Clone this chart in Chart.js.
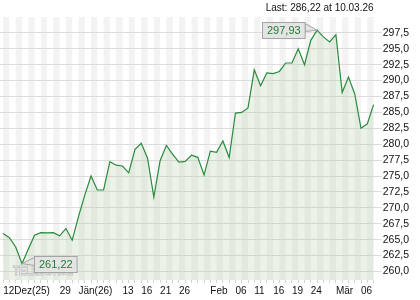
<!DOCTYPE html>
<html>
<head>
<meta charset="utf-8">
<script src="https://cdn.jsdelivr.net/npm/chart.js@4.4.1/dist/chart.umd.min.js"></script>
<style>
  html, body { margin: 0; padding: 0; background: #fff; }
</style>
</head>
<body>
<canvas id="kurs" width="420" height="300"></canvas>
<script>
// Handelstage 12.12.25 - 10.03.26
var dates = ['12.12.25','15.12.25','16.12.25','17.12.25','18.12.25','19.12.25','22.12.25','23.12.25','24.12.25','29.12.25',
    '30.12.25','31.12.25','02.01.26','05.01.26','06.01.26','07.01.26','08.01.26','09.01.26','12.01.26','13.01.26',
    '14.01.26','15.01.26','16.01.26','19.01.26','20.01.26','21.01.26','22.01.26','23.01.26','26.01.26','27.01.26',
    '28.01.26','29.01.26','30.01.26','02.02.26','03.02.26','04.02.26','05.02.26','06.02.26','09.02.26','10.02.26',
    '11.02.26','12.02.26','13.02.26','16.02.26','17.02.26','18.02.26','19.02.26','20.02.26','23.02.26','24.02.26',
    '25.02.26','26.02.26','27.02.26','02.03.26','03.03.26','04.03.26','05.03.26','06.03.26','09.03.26','10.03.26'];

var kurse = [265.95, 265.30, 263.84, 261.22, 263.50, 265.70, 266.10, 266.05, 266.10, 265.60,
    266.74, 264.90, 268.60, 272.00, 275.00, 272.80, 272.80, 277.25, 276.70, 276.57,
    275.50, 279.20, 280.15, 277.80, 271.70, 277.40, 279.80, 278.40, 277.20, 277.30,
    278.26, 277.94, 275.15, 278.90, 278.73, 280.50, 277.90, 284.90, 285.00, 285.70,
    291.70, 289.20, 291.20, 291.10, 291.44, 292.77, 292.77, 295.00, 292.50, 296.33,
    297.93, 296.87, 296.08, 297.23, 288.13, 290.56, 287.90, 282.50, 283.20, 286.22];

var tickDates = ['12.12.25','29.12.25','02.01.26','13.01.26','16.01.26','21.01.26','26.01.26','02.02.26',
    '06.02.26','11.02.26','16.02.26','19.02.26','24.02.26','02.03.26','06.03.26'];
var tickTexts = ['12Dez(25)','29','Jän(26)','13','16','21','26','Feb','06','11','16','19','24','Mär','06'];

var yTicks = [260, 262.5, 265, 267.5, 270, 272.5, 275, 277.5, 280, 282.5, 285, 287.5, 290, 292.5, 295, 297.5];

var lastText = 'Last: 286,22 at 10.03.26';
var fontName = '"Liberation Sans", Arial, sans-serif';

function fmt(v, d) {
    return v.toFixed(d).replace('.', ',');
}

// graue Streifen hinter dem Chart
var streifen = {
    id: 'streifen',
    beforeDraw: function (chart) {
        var ctx = chart.ctx, area = chart.chartArea, xs = chart.scales.x;
        ctx.save();
        ctx.fillStyle = '#f3f3f3';
        for (var i = 0; i < dates.length - 1; i += 2) {
            var a = xs.getPixelForValue(i), b = xs.getPixelForValue(i + 1);
            ctx.fillRect(a, area.top, b - a, area.bottom - area.top);
        }
        ctx.restore();
    }
};

function markBox(ctx, x, y, text, side) {
    ctx.font = '11px ' + fontName;
    var w = ctx.measureText(text).width + 9, h = 16;
    var bx = side > 0 ? x + 12 : x - 12 - w;
    var by = Math.round(y - h / 2) + 0.5;
    bx = Math.round(bx) + 0.5;
    var ex = side > 0 ? bx : bx + w;
    ctx.fillStyle = '#e4e4e4';
    ctx.strokeStyle = '#a4a4a4';
    ctx.lineWidth = 1;
    ctx.beginPath();
    ctx.moveTo(x, y);
    ctx.lineTo(ex, by + 1);
    ctx.lineTo(ex, by + 9);
    ctx.closePath();
    ctx.fill();
    ctx.stroke();
    ctx.fillRect(bx, by, w, h);
    ctx.strokeRect(bx, by, w, h);
    ctx.fillStyle = '#1f7d33';
    ctx.textAlign = 'center';
    ctx.textBaseline = 'middle';
    ctx.fillText(text, bx + w / 2, by + h / 2 + 0.5);
}

var extras = {
    id: 'extras',
    afterDraw: function (chart) {
        var ctx = chart.ctx, area = chart.chartArea;
        var xs = chart.scales.x, ys = chart.scales.y;
        ctx.save();

        // Wasserzeichen
        ctx.save();
        ctx.translate(area.left + 13, area.bottom - 5);
        ctx.scale(0.82, 1);
        ctx.font = 'bold 12px ' + fontName;
        ctx.textBaseline = 'alphabetic';
        ctx.fillStyle = '#f6f6f6';
        ctx.strokeStyle = '#c4c4c4';
        ctx.lineWidth = 1;
        ctx.fillText('TELEBÖRSE', 0, 0);
        ctx.strokeText('TELEBÖRSE', 0, 0);
        ctx.restore();

        // Max / Min
        var iMax = 0, iMin = 0;
        for (var i = 0; i < kurse.length; i++) {
            if (kurse[i] > kurse[iMax]) iMax = i;
            if (kurse[i] < kurse[iMin]) iMin = i;
        }
        markBox(ctx, xs.getPixelForValue(iMax), ys.getPixelForValue(kurse[iMax]), fmt(kurse[iMax], 2), -1);
        markBox(ctx, xs.getPixelForValue(iMin), ys.getPixelForValue(kurse[iMin]), fmt(kurse[iMin], 2), 1);

        // Last
        ctx.font = '10px ' + fontName;
        ctx.fillStyle = '#111';
        ctx.textAlign = 'right';
        ctx.textBaseline = 'middle';
        ctx.fillText(lastText, xs.getPixelForValue(kurse.length - 1), 8);
        ctx.restore();
    }
};

var chart = new Chart(document.getElementById('kurs').getContext('2d'), {
    type: 'line',
    data: {
        labels: dates,
        datasets: [{
            data: kurse,
            borderColor: '#2b8a3e',
            borderWidth: 1.2,
            backgroundColor: 'rgba(170, 205, 160, 0.24)',
            fill: 'start',
            pointRadius: 0,
            tension: 0
        }]
    },
    options: {
        responsive: false,
        animation: false,
        devicePixelRatio: 1,
        layout: { padding: { top: 17, right: 10, bottom: 1, left: 0 } },
        plugins: {
            legend: { display: false },
            tooltip: { enabled: false }
        },
        scales: {
            x: {
                offset: true,
                border: { display: false },
                grid: { drawOnChartArea: false, color: '#d4d4d4', tickLength: 3 },
                ticks: {
                    autoSkip: false,
                    maxRotation: 0,
                    align: 'start',
                    padding: 2,
                    color: '#111',
                    font: { family: fontName, size: 10 },
                    callback: function (v) {
                        var k = tickDates.indexOf(dates[v]);
                        return k < 0 ? '' : tickTexts[k];
                    }
                }
            },
            y: {
                position: 'right',
                min: 258.65,
                max: 300,
                border: { display: false },
                grid: { color: '#dcdcdc', tickLength: 5 },
                afterBuildTicks: function (axis) {
                    axis.ticks = yTicks.map(function (v) { return { value: v }; });
                },
                ticks: {
                    padding: 1,
                    color: '#111',
                    font: { family: fontName, size: 10.5 },
                    callback: function (v) { return fmt(v, 1); }
                }
            }
        }
    },
    plugins: [streifen, extras]
});
</script>
</body>
</html>
